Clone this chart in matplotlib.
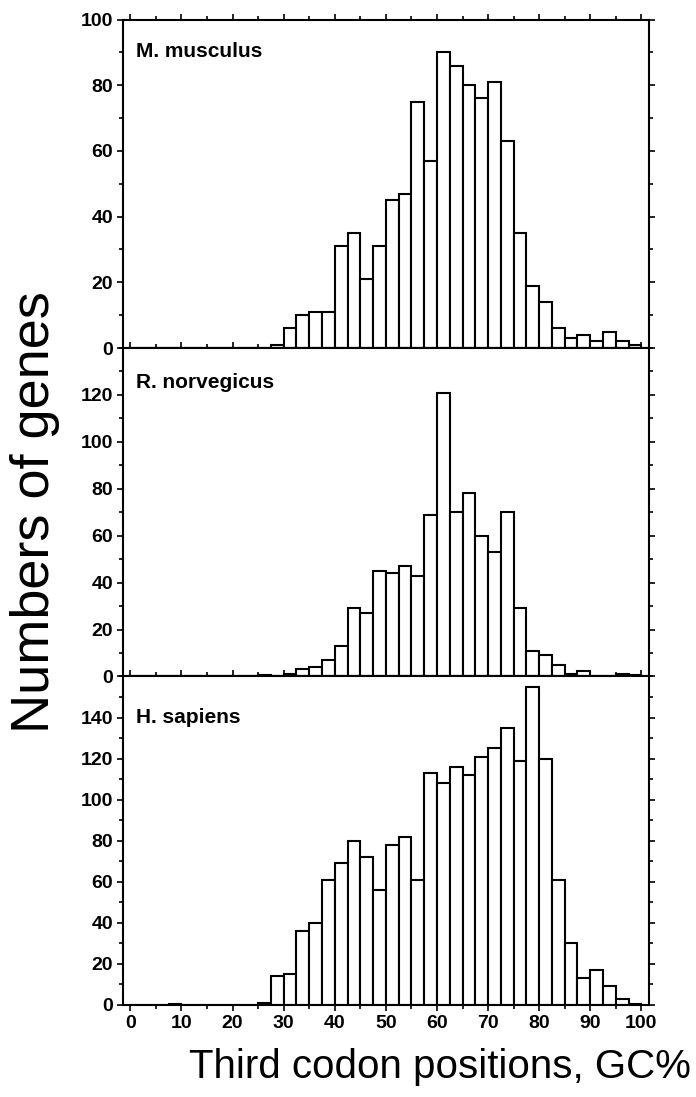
import matplotlib
matplotlib.use("Agg")
import matplotlib.pyplot as plt
import numpy as np
from matplotlib.ticker import MultipleLocator

plt.rcParams['font.family'] = ['Liberation Sans', 'DejaVu Sans']

# bin starts, 2.5 % wide
bin_starts = np.arange(0, 100, 2.5)

species = ["M. musculus", "R. norvegicus", "H. sapiens"]

musculus = [0, 0, 0, 0, 0, 0, 0, 0, 0, 0,
            0, 1, 6, 10, 11, 11, 31, 35, 21, 31,
            45, 47, 75, 57, 90, 86, 80, 76, 81, 63,
            35, 19, 14, 6, 3, 4, 2, 5, 2, 1]

norvegicus = [0, 0, 0, 0, 0, 0, 0, 0, 0, 0,
              0.5, 0, 1, 3, 4, 7, 13, 29, 27, 45,
              44, 47, 43, 69, 121, 70, 78, 60, 53, 70,
              29, 11, 9, 5, 1, 2.5, 0, 0, 1, 0.5]

sapiens = [0, 0, 0, 0.5, 0, 0, 0, 0, 0, 0,
           1, 14, 15, 36, 40, 61, 69, 80, 72, 56,
           78, 82, 61, 113, 108, 116, 112, 121, 125, 135,
           119, 155, 120, 61, 30, 13, 17, 9, 3, 0.5]

counts = [musculus, norvegicus, sapiens]
y_tops = [100, 140, 160]
y_labels = [[0, 20, 40, 60, 80, 100],
            [0, 20, 40, 60, 80, 100, 120],
            [0, 20, 40, 60, 80, 100, 120, 140]]
x_labels = [0, 10, 20, 30, 40, 50, 60, 70, 80, 90, 100]

fig = plt.figure(figsize=(6.96, 10.97), dpi=100)

left, right = 0.1763, 0.9325
bottom, top = 0.0839, 0.9822
h = (top - bottom) / 3
label_y = [0.902, 0.896, 0.874]

for i in range(3):
    ax = fig.add_axes([left, top - (i + 1) * h, right - left, h])
    ax.bar(bin_starts, counts[i], width=2.5, align='edge',
           facecolor='white', edgecolor='black', linewidth=1.5)
    ax.set_xlim(-1.5, 101.5)
    ax.set_ylim(0, y_tops[i])
    ax.set_yticks(y_labels[i])
    ax.yaxis.set_minor_locator(MultipleLocator(10))
    ax.set_xticks(x_labels)
    ax.xaxis.set_minor_locator(MultipleLocator(5))
    ax.tick_params(which='both', direction='out', top=True, right=True,
                   width=1.2, labelsize=14, pad=3)
    ax.tick_params(which='major', length=4)
    ax.tick_params(which='minor', length=3)
    for lab in ax.get_yticklabels() + ax.get_xticklabels():
        lab.set_fontweight('bold')
    if i < 2:
        ax.tick_params(axis='x', labelbottom=False)
    for sp in ax.spines.values():
        sp.set_linewidth(1.5)
    ax.text(0.025, label_y[i], species[i], transform=ax.transAxes,
            fontsize=15, fontweight='bold', va='center', ha='left')

fig.text(0.050, 0.533, "Numbers of genes", rotation=90, fontsize=39,
         ha='center', va='center')
fig.text(0.632, 0.027, "Third codon positions, GC%", fontsize=29,
         ha='center', va='center')

fig.savefig("out.png", dpi=100)
